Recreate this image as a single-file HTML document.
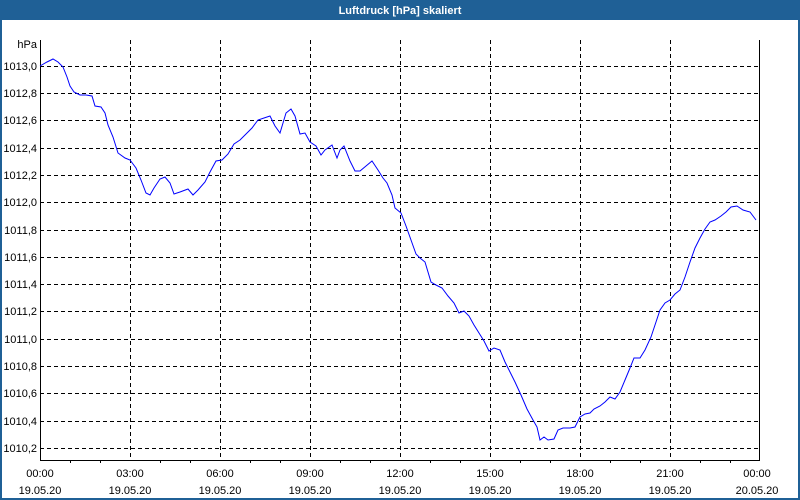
<!DOCTYPE html>
<html><head><meta charset="utf-8"><style>
html,body{margin:0;padding:0;background:#fff}
svg{display:block}
text{font-family:"Liberation Sans",sans-serif;font-size:11px;fill:#000}
</style></head><body>
<svg width="800" height="500" viewBox="0 0 800 500" xmlns="http://www.w3.org/2000/svg">
<rect x="0" y="0" width="800" height="500" fill="#fff"/>
<rect x="0" y="0" width="800" height="20" fill="#1f6096"/>
<rect x="0" y="0" width="2" height="500" fill="#1f6096"/>
<rect x="798" y="0" width="2" height="500" fill="#1f6096"/>
<rect x="0" y="498" width="800" height="2" fill="#1f6096"/>
<text x="400" y="14" text-anchor="middle" style="fill:#fff;font-weight:bold">Luftdruck [hPa] skaliert</text>
<g stroke="#000" stroke-width="1" stroke-dasharray="4,3" shape-rendering="crispEdges">
<line x1="40" y1="66.5" x2="760" y2="66.5"/>
<line x1="40" y1="93.5" x2="760" y2="93.5"/>
<line x1="40" y1="120.5" x2="760" y2="120.5"/>
<line x1="40" y1="148.5" x2="760" y2="148.5"/>
<line x1="40" y1="175.5" x2="760" y2="175.5"/>
<line x1="40" y1="202.5" x2="760" y2="202.5"/>
<line x1="40" y1="230.5" x2="760" y2="230.5"/>
<line x1="40" y1="257.5" x2="760" y2="257.5"/>
<line x1="40" y1="284.5" x2="760" y2="284.5"/>
<line x1="40" y1="311.5" x2="760" y2="311.5"/>
<line x1="40" y1="339.5" x2="760" y2="339.5"/>
<line x1="40" y1="366.5" x2="760" y2="366.5"/>
<line x1="40" y1="393.5" x2="760" y2="393.5"/>
<line x1="40" y1="421.5" x2="760" y2="421.5"/>
<line x1="40" y1="448.5" x2="760" y2="448.5"/>
<line x1="130.5" y1="40" x2="130.5" y2="461"/>
<line x1="220.5" y1="40" x2="220.5" y2="461"/>
<line x1="310.5" y1="40" x2="310.5" y2="461"/>
<line x1="400.5" y1="40" x2="400.5" y2="461"/>
<line x1="490.5" y1="40" x2="490.5" y2="461"/>
<line x1="580.5" y1="40" x2="580.5" y2="461"/>
<line x1="670.5" y1="40" x2="670.5" y2="461"/>
</g>
<g stroke="#000" stroke-width="1" shape-rendering="crispEdges">
<line x1="40.5" y1="40" x2="40.5" y2="461"/>
<line x1="759.5" y1="40" x2="759.5" y2="461"/>
<line x1="40" y1="460.5" x2="760" y2="460.5"/>
<line x1="70.5" y1="460" x2="70.5" y2="463"/><line x1="100.5" y1="460" x2="100.5" y2="463"/>
<line x1="160.5" y1="460" x2="160.5" y2="463"/><line x1="190.5" y1="460" x2="190.5" y2="463"/>
<line x1="250.5" y1="460" x2="250.5" y2="463"/><line x1="280.5" y1="460" x2="280.5" y2="463"/>
<line x1="340.5" y1="460" x2="340.5" y2="463"/><line x1="370.5" y1="460" x2="370.5" y2="463"/>
<line x1="430.5" y1="460" x2="430.5" y2="463"/><line x1="460.5" y1="460" x2="460.5" y2="463"/>
<line x1="520.5" y1="460" x2="520.5" y2="463"/><line x1="550.5" y1="460" x2="550.5" y2="463"/>
<line x1="610.5" y1="460" x2="610.5" y2="463"/><line x1="640.5" y1="460" x2="640.5" y2="463"/>
<line x1="700.5" y1="460" x2="700.5" y2="463"/><line x1="730.5" y1="460" x2="730.5" y2="463"/>
</g>
<g text-anchor="end">
<text x="37" y="48">hPa</text>
<text x="37" y="70">1013,0</text>
<text x="37" y="97">1012,8</text>
<text x="37" y="124">1012,6</text>
<text x="37" y="152">1012,4</text>
<text x="37" y="179">1012,2</text>
<text x="37" y="206">1012,0</text>
<text x="37" y="234">1011,8</text>
<text x="37" y="261">1011,6</text>
<text x="37" y="288">1011,4</text>
<text x="37" y="315">1011,2</text>
<text x="37" y="343">1011,0</text>
<text x="37" y="370">1010,8</text>
<text x="37" y="397">1010,6</text>
<text x="37" y="425">1010,4</text>
<text x="37" y="452">1010,2</text>
</g>
<g text-anchor="middle">
<text x="40" y="477">00:00</text><text x="40" y="494">19.05.20</text>
<text x="130" y="477">03:00</text><text x="130" y="494">19.05.20</text>
<text x="220" y="477">06:00</text><text x="220" y="494">19.05.20</text>
<text x="310" y="477">09:00</text><text x="310" y="494">19.05.20</text>
<text x="400" y="477">12:00</text><text x="400" y="494">19.05.20</text>
<text x="490" y="477">15:00</text><text x="490" y="494">19.05.20</text>
<text x="580" y="477">18:00</text><text x="580" y="494">19.05.20</text>
<text x="670" y="477">21:00</text><text x="670" y="494">19.05.20</text>
<text x="757" y="477">00:00</text><text x="757" y="494">20.05.20</text>
</g>
<polyline fill="none" stroke="#0000ff" stroke-width="1" points="40,66 47,62 53,59 58,62 63,67 67,77 70,86 74,92 80,95 86,95 92,96 95,106 101,107 105,113 108,125 113,137 118,153 125,158 130,160 136,168 141,180 146,193 150,195 154,188 160,179 165,177 170,183 174,194 180,192 188,189 193,195 198,190 205,182 210,172 216,161 222,160 228,154 234,144 240,140 246,134 252,128 258,120 264,118 270,116 275,126 280,133 286,113 291,109 295,116 300,134 305,133 310,142 316,146 321,155 325,150 332,145 337,158 340,150 344,146 350,161 355,171 360,171 366,166 372,161 378,170 383,178 387,183 392,195 395,208 401,213 406,226 411,240 416,254 420,258 425,262 431,282 436,285 442,288 448,296 454,303 459,313 464,311 469,316 474,325 479,333 484,341 489,351 494,348 500,350 505,362 510,372 515,382 521,395 527,409 533,420 537,427 540,440 544,437 548,440 554,439 558,430 563,428 570,428 575,427 580,417 585,414 590,413 594,409 600,406 605,402 610,397 615,399 620,392 625,380 630,368 634,358 640,358 645,350 651,337 656,322 660,310 665,303 670,300 675,294 680,290 685,277 690,262 695,248 700,238 705,229 710,222 715,220 721,216 726,212 731,207 737,206 743,210 750,212 756,220"/>
</svg>
</body></html>
